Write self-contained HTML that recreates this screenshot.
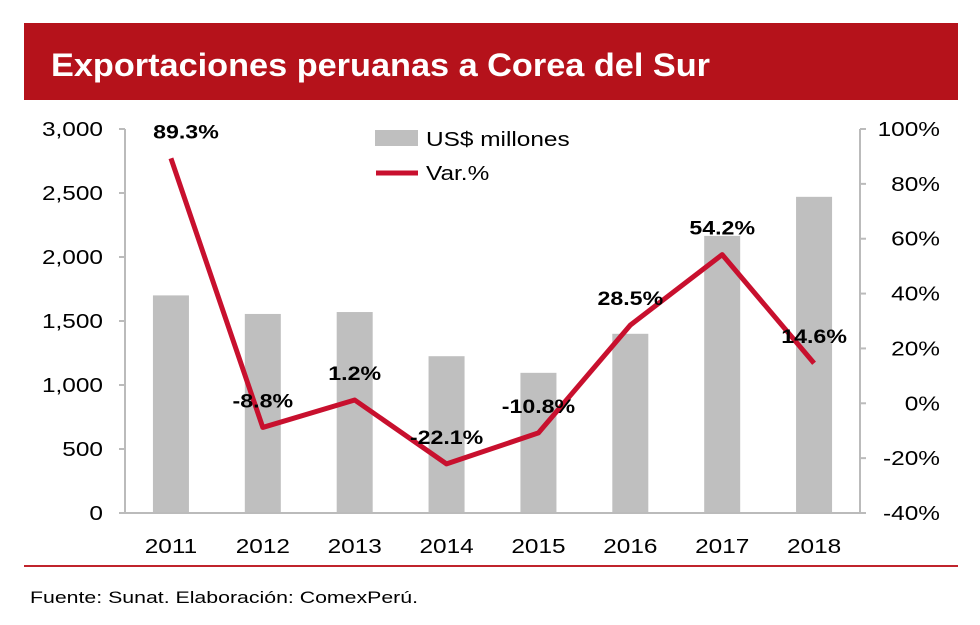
<!DOCTYPE html>
<html><head><meta charset="utf-8"><style>
body{margin:0;width:980px;height:625px;background:#fff;overflow:hidden;font-family:"Liberation Sans",Arial,sans-serif}
</style></head><body>
<svg width="980" height="625" style="position:absolute;left:0;top:0">
<rect x="24" y="23" width="934" height="77" fill="#b5121b"/>
<text x="51" y="76" fill="#fff" font-size="32" font-weight="bold" textLength="659" lengthAdjust="spacingAndGlyphs">Exportaciones peruanas a Corea del Sur</text>
<g id="plot"></g>
<line x1="24" y1="566" x2="958" y2="566" stroke="#c0242c" stroke-width="2"/>
<text x="30" y="603" font-size="17" fill="#000" textLength="388" lengthAdjust="spacingAndGlyphs">Fuente: Sunat. Elaboración: ComexPerú.</text>
</svg>
<script>
const years=["2011","2012","2013","2014","2015","2016","2017","2018"];
const exportsUSD=[1700,1555,1570,1225,1095,1400,2165,2470];
const variation=[89.3,-8.8,1.2,-22.1,-10.8,28.5,54.2,14.6];
const leftTicks=[0,500,1000,1500,2000,2500,3000];
const rightTicks=[-40,-20,0,20,40,60,80,100];
const NS="http://www.w3.org/2000/svg";
const g=document.getElementById('plot');
const X0=125,X1=860,Y0=513,Y1=129,SX=1.22;
const bw=(X1-X0)/years.length;
const xc=i=>X0+bw*(i+0.5);
const yL=v=>Y0-(v/3000)*(Y0-Y1);
const yR=v=>Y0-((v+40)/140)*(Y0-Y1);
function mk(t,a,txt){const e=document.createElementNS(NS,t);for(const k in a)e.setAttribute(k,a[k]);if(txt!==undefined)e.textContent=txt;g.appendChild(e);return e;}
function tx(x,y,s,anchor,extra){const a=Object.assign({x:0,y:0,transform:`translate(${x},${y}) scale(${SX},1)`,'text-anchor':anchor,'font-size':20},extra||{});return mk('text',a,s);}
exportsUSD.forEach((v,i)=>{const r=mk('rect',{x:xc(i)-18,y:yL(v),width:36,height:Y0-yL(v),fill:'#bfbfbf'});

});
let a=mk('line',{x1:X0,y1:Y1,x2:X0,y2:Y0,stroke:'#bbb','stroke-width':2});


a=mk('line',{x1:X1,y1:Y1,x2:X1,y2:Y0,stroke:'#bbb','stroke-width':2});


a=mk('line',{x1:X0,y1:Y0,x2:X1,y2:Y0,stroke:'#bbb','stroke-width':2});


leftTicks.forEach(v=>{mk('line',{x1:X0-6,y1:yL(v),x2:X0,y2:yL(v),stroke:'#bbb','stroke-width':2});
const t=tx(X0-22,yL(v)+7,v.toLocaleString('en-US'),'end');

});
rightTicks.forEach(v=>{mk('line',{x1:X1,y1:yR(v),x2:X1+6,y2:yR(v),stroke:'#bbb','stroke-width':2});
const t=tx(X1+80,yR(v)+7,v+'%','end');

});
years.forEach((y,i)=>{const t=tx(xc(i),553,y,'middle');

});
const ln=mk('polyline',{points:variation.map((v,i)=>xc(i)+','+yR(v)).join(' '),fill:'none',stroke:'#c8102e','stroke-width':5,'stroke-linejoin':'round'});


variation.forEach((v,i)=>{const t=tx(xc(i)+(i===0?15:0),yR(v)-20,v.toFixed(1)+'%','middle',{'font-weight':'bold','font-size':19});

});
let l=mk('rect',{x:375,y:130,width:43,height:16,fill:'#bfbfbf'});


l=tx(426,146,'US$ millones','start');


l=mk('line',{x1:376,y1:173,x2:418,y2:173,stroke:'#c8102e','stroke-width':5});


l=tx(426,180,'Var.%','start');


</script>
</body></html>
